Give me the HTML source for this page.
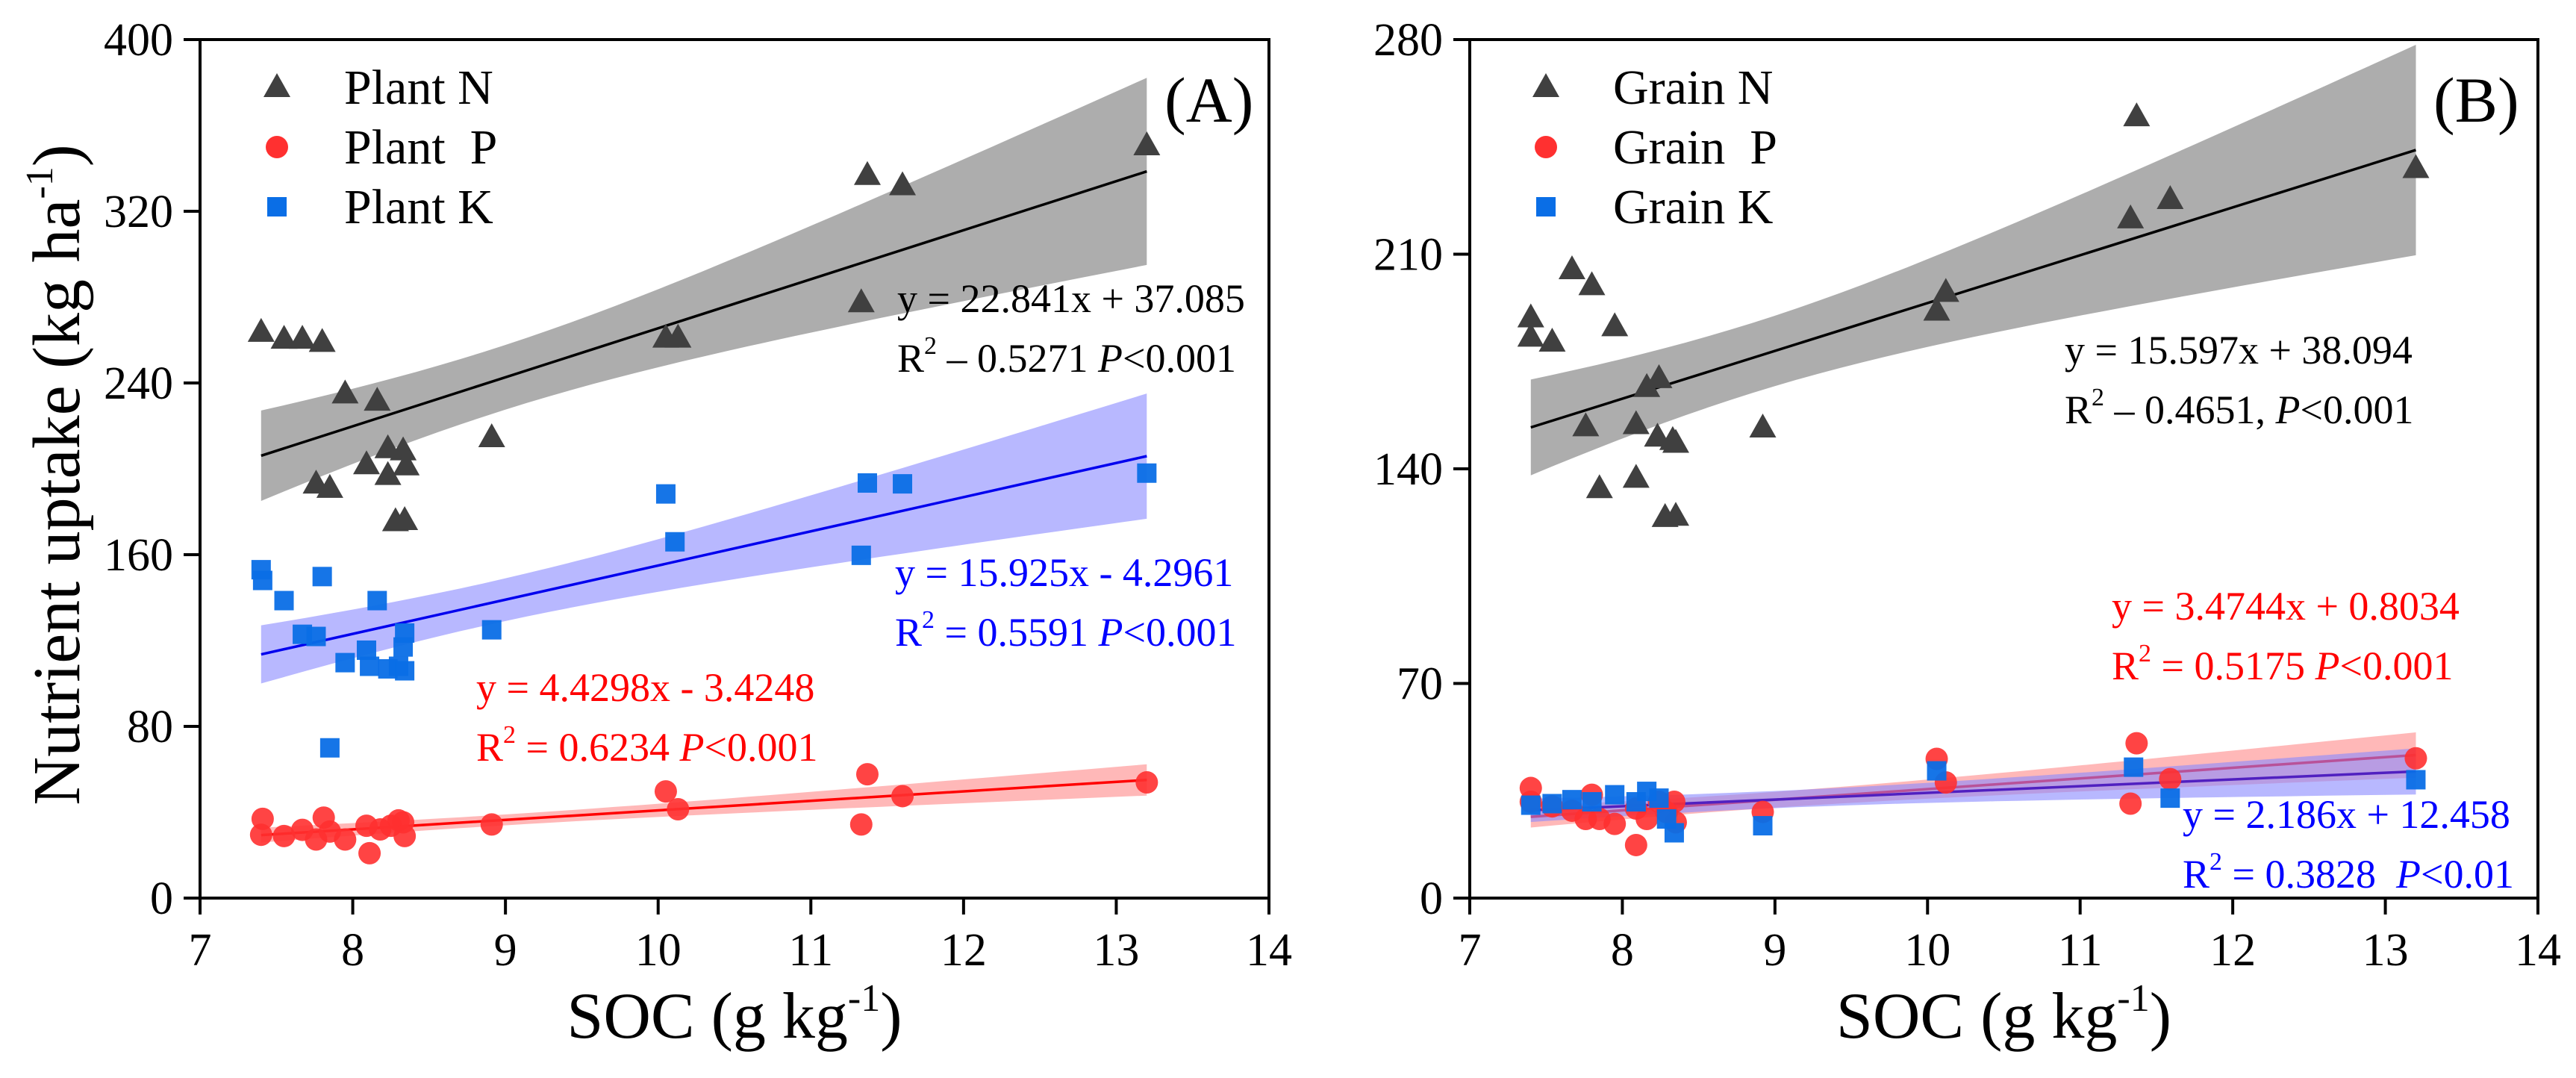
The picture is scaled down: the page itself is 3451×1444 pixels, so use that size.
<!DOCTYPE html>
<html><head><meta charset="utf-8">
<style>
html,body{margin:0;padding:0;background:#fff;}
svg{display:block;font-family:"Liberation Serif",serif;}
</style></head>
<body>
<svg id="fig" width="3451" height="1444" viewBox="0 0 3451 1444" xmlns="http://www.w3.org/2000/svg"></svg>
<script>
// ---------- Panel A data ----------
const plantNx = [7.40,7.55,7.67,7.80,7.95,8.16,7.76,7.85,8.09,8.23,8.23,8.33,8.35,8.28,8.34,8.91,10.05,10.13,11.33,11.37,11.60,13.20];
const plantNy = [263.7,260.5,260.5,259,235,231.6,193,191,202,197,209.5,208.5,201.5,175.5,176,214.6,261,261,277.5,336.8,332,350.6];
const plantKx = [7.40,7.41,7.55,7.80,7.67,7.76,8.16,7.95,8.09,8.11,8.23,8.30,8.34,8.33,8.34,7.85,8.91,10.05,10.11,11.33,11.37,11.60,13.20];
const plantKy = [153,148,138.6,149.8,122.9,121.9,138.6,109.7,115.5,108,106.8,108,105.9,117,123.5,70,125,188.3,166,159.7,193.4,193,198];
const plantPx = [7.41,7.40,7.55,7.67,7.76,7.81,7.85,7.95,8.11,8.09,8.18,8.25,8.30,8.33,8.34,8.91,10.05,10.13,11.33,11.37,11.60,13.20];
const plantPy = [36.9,29.5,28.9,31.8,27.3,37.5,31,27.3,20.9,33.7,32,33.7,36.2,35.3,28.9,34.3,49.7,41.4,34.3,57.7,47.5,53.9];
const fitA_slope = [22.841, 4.4298, 15.925];
const fitA_icept = [37.085, -3.4248, -4.2961];
// ---------- Panel B data ----------
const grainNx = [7.40,7.40,7.54,7.67,7.80,7.95,7.76,7.85,8.09,8.09,8.16,8.24,8.23,8.33,8.35,8.28,8.35,8.92,10.06,10.12,11.33,11.37,11.59,13.20];
const grainNy = [189.3,183,181.4,205,199.8,186.4,153.8,133.6,154.5,137,166.6,169.5,150.4,149.3,148.4,124.2,124.6,153.4,191.5,197.6,221.6,254.9,227.9,238];
const grainPx = [7.40,7.40,7.54,7.67,7.76,7.80,7.85,7.95,8.09,8.09,8.16,8.24,8.29,8.34,8.35,8.92,10.06,10.12,11.33,11.37,11.59,13.20];
const grainPy = [35.9,31.4,29.9,28.5,25.8,33.7,25.8,24.2,17.3,29.2,25.8,31.4,28,31.4,24.7,28.1,45.4,37.7,30.8,50.5,38.8,45.6];
const grainKx = [7.40,7.54,7.67,7.80,7.95,8.16,8.09,8.24,8.29,8.34,8.92,10.06,11.35,11.59,13.20];
const grainKy = [30.3,30.8,32.1,31.4,33.7,34.8,31.4,32.6,25.8,21.3,23.6,41.5,42.7,32.6,38.6];
const fitB_slope = [15.597, 3.4744, 2.186];
const fitB_icept = [38.094, 0.8034, 12.458];
const xTicks = [7,8,9,10,11,12,13,14];
const yTicksA = [0,80,160,240,320,400];
const yTicksB = [0,70,140,210,280];

const NS="http://www.w3.org/2000/svg";
const svg=document.getElementById('fig');
function el(tag,attrs,parent,text){const e=document.createElementNS(NS,tag);for(const k in attrs)e.setAttribute(k,attrs[k]);if(text!==undefined)e.textContent=text;(parent||svg).appendChild(e);return e;}

function panel(cfg){
  const g=el('g',{});
  
  
  const L=cfg.left,R=cfg.right,T=53,B=1203;
  const xs=v=>L+(v-7)/(14-7)*(R-L);
  const ys=v=>B-(v/cfg.ymax)*(B-T);
  cfg.series.forEach((s,i)=>{
    const n=s.x.length;const xb=s.x.reduce((a,b)=>a+b,0)/n;
    let sxx=0,sse=0;
    for(let j=0;j<n;j++){sxx+=(s.x[j]-xb)**2;const r=s.y[j]-(s.slope*s.x[j]+s.icept);sse+=r*r;}
    const se=Math.sqrt(sse/(n-2));const t=2.08;
    const x0=Math.min(...s.x),x1=Math.max(...s.x);
    let up=[],dn=[];
    for(let k=0;k<=40;k++){const xv=x0+(x1-x0)*k/40;const yh=s.slope*xv+s.icept;const h=t*se*Math.sqrt(1/n+(xv-xb)**2/sxx);
      up.push(xs(xv).toFixed(1)+','+ys(yh+h).toFixed(1));dn.unshift(xs(xv).toFixed(1)+','+ys(yh-h).toFixed(1));}
    const band=el('polygon',{points:up.concat(dn).join(' '),fill:s.band,'fill-opacity':s.bandOp},g);
    
    
    const ln=el('line',{x1:xs(x0),y1:ys(s.slope*x0+s.icept),x2:xs(x1),y2:ys(s.slope*x1+s.icept),stroke:s.lineColor,'stroke-width':3.5},g);
    
    
  });
  cfg.series.forEach(s=>{
    for(let j=0;j<s.x.length;j++){
      const cx=xs(s.x[j]),cy=ys(s.y[j]);let m;
      if(s.shape==='tri') m=el('polygon',{points:`${cx},${cy-19} ${cx-18},${cy+13} ${cx+18},${cy+13}`,fill:'#404040'},g);
      else if(s.shape==='circ') m=el('circle',{cx:cx,cy:cy,r:15,fill:'#ff3030','fill-opacity':0.9},g);
      else m=el('rect',{x:cx-13,y:cy-13,width:26,height:26,fill:'#0a6ee6','fill-opacity':0.95},g);
      
      
    }
  });
  const fr=el('rect',{x:L,y:T,width:R-L,height:B-T,fill:'none',stroke:'#000','stroke-width':4},g);
  
  
  xTicks.forEach(v=>{
    const tk=el('line',{x1:xs(v),y1:B,x2:xs(v),y2:B+22,stroke:'#000','stroke-width':4},g);
    
    
    const tl=el('text',{x:xs(v),y:B+90,'font-size':62,'text-anchor':'middle'},g,String(v));
    
    
  });
  cfg.yticks.forEach(v=>{
    const tk=el('line',{x1:L-22,y1:ys(v),x2:L,y2:ys(v),stroke:'#000','stroke-width':4},g);
    
    
    const tl=el('text',{x:L-36,y:ys(v)+21,'font-size':62,'text-anchor':'end'},g,String(v));
    
    
  });
  const xt=el('text',{x:(L+R)/2,y:1390,'font-size':88,'text-anchor':'middle'},g);
  
  
  xt.innerHTML='SOC (g kg<tspan dy="-36" font-size="52">-1</tspan><tspan dy="36">)</tspan>';
  const pl=el('text',{x:R-140,y:163,'font-size':86},g,cfg.label);
  
  
  cfg.series.forEach((s,i)=>{
    const my=117+i*80, mx=L+cfg.legOff;
    let m;
    if(s.shape==='tri') m=el('polygon',{points:`${mx},${my-19} ${mx-18},${my+13} ${mx+18},${my+13}`,fill:'#404040'},g);
    else if(s.shape==='circ') m=el('circle',{cx:mx,cy:my,r:15,fill:'#ff3030'},g);
    else m=el('rect',{x:mx-13,y:my-13,width:26,height:26,fill:'#0a6ee6'},g);
    
    
    const tx=el('text',{x:mx+90,y:my+22,'font-size':66},g,s.label);
    
    
  });
  cfg.eqs.forEach(q=>{
    const t1=el('text',{x:q.x,y:q.y,'font-size':54,fill:q.c},g,q.l1);
    
    
    const t2=el('text',{x:q.x,y:q.y+80,'font-size':54,fill:q.c},g);
    
    
    t2.innerHTML='R<tspan dy="-24" font-size="34">2</tspan><tspan dy="24">'+q.l2+'</tspan><tspan font-style="italic">P</tspan>'+q.l3;
  });
  return g;
}

panel({name:'panel-a',left:268,right:1700,ymax:400,yticks:yTicksA,label:'(A)',legOff:103,
 series:[
  {key:'plant-n',label:'Plant N',shape:'tri',x:plantNx,y:plantNy,slope:fitA_slope[0],icept:fitA_icept[0],band:'#999999',bandOp:0.8,lineColor:'#000'},
  {key:'plant-p',label:'Plant\u00a0\u00a0P',shape:'circ',x:plantPx,y:plantPy,slope:fitA_slope[1],icept:fitA_icept[1],band:'#ff8888',bandOp:0.6,lineColor:'#ff0000'},
  {key:'plant-k',label:'Plant K',shape:'sq',x:plantKx,y:plantKy,slope:fitA_slope[2],icept:fitA_icept[2],band:'#8888ff',bandOp:0.6,lineColor:'#0000ee'}],
 eqs:[
  {k:'plant-n',x:1202,y:418,c:'#000',l1:'y = 22.841x + 37.085',l2:' – 0.5271 ',l3:'<0.001'},
  {k:'plant-k',x:1199,y:785,c:'#0000ff',l1:'y = 15.925x - 4.2961',l2:' = 0.5591 ',l3:'<0.001'},
  {k:'plant-p',x:638,y:939,c:'#ff0000',l1:'y = 4.4298x - 3.4248',l2:' = 0.6234 ',l3:'<0.001'}]
});
panel({name:'panel-b',left:1969,right:3400,ymax:280,yticks:yTicksB,label:'(B)',legOff:102,
 series:[
  {key:'grain-n',label:'Grain N',shape:'tri',x:grainNx,y:grainNy,slope:fitB_slope[0],icept:fitB_icept[0],band:'#999999',bandOp:0.8,lineColor:'#000'},
  {key:'grain-p',label:'Grain\u00a0\u00a0P',shape:'circ',x:grainPx,y:grainPy,slope:fitB_slope[1],icept:fitB_icept[1],band:'#ff8888',bandOp:0.6,lineColor:'#ff0000'},
  {key:'grain-k',label:'Grain K',shape:'sq',x:grainKx,y:grainKy,slope:fitB_slope[2],icept:fitB_icept[2],band:'#8888ff',bandOp:0.6,lineColor:'#5020c0'}],
 eqs:[
  {k:'grain-n',x:2766,y:487,c:'#000',l1:'y = 15.597x + 38.094',l2:' – 0.4651, ',l3:'<0.001'},
  {k:'grain-p',x:2829,y:830,c:'#ff0000',l1:'y = 3.4744x + 0.8034',l2:' = 0.5175 ',l3:'<0.001'},
  {k:'grain-k',x:2924,y:1109,c:'#0000ff',l1:'y = 2.186x + 12.458',l2:' = 0.3828\u00a0\u00a0',l3:'<0.01'}]
});
const yt=el('text',{x:0,y:0,'font-size':90,'text-anchor':'middle',transform:'translate(106,636) rotate(-90)'});


yt.innerHTML='Nutrient uptake (kg ha<tspan dy="-36" font-size="52">-1</tspan><tspan dy="36">)</tspan>';
</script>
</body></html>
